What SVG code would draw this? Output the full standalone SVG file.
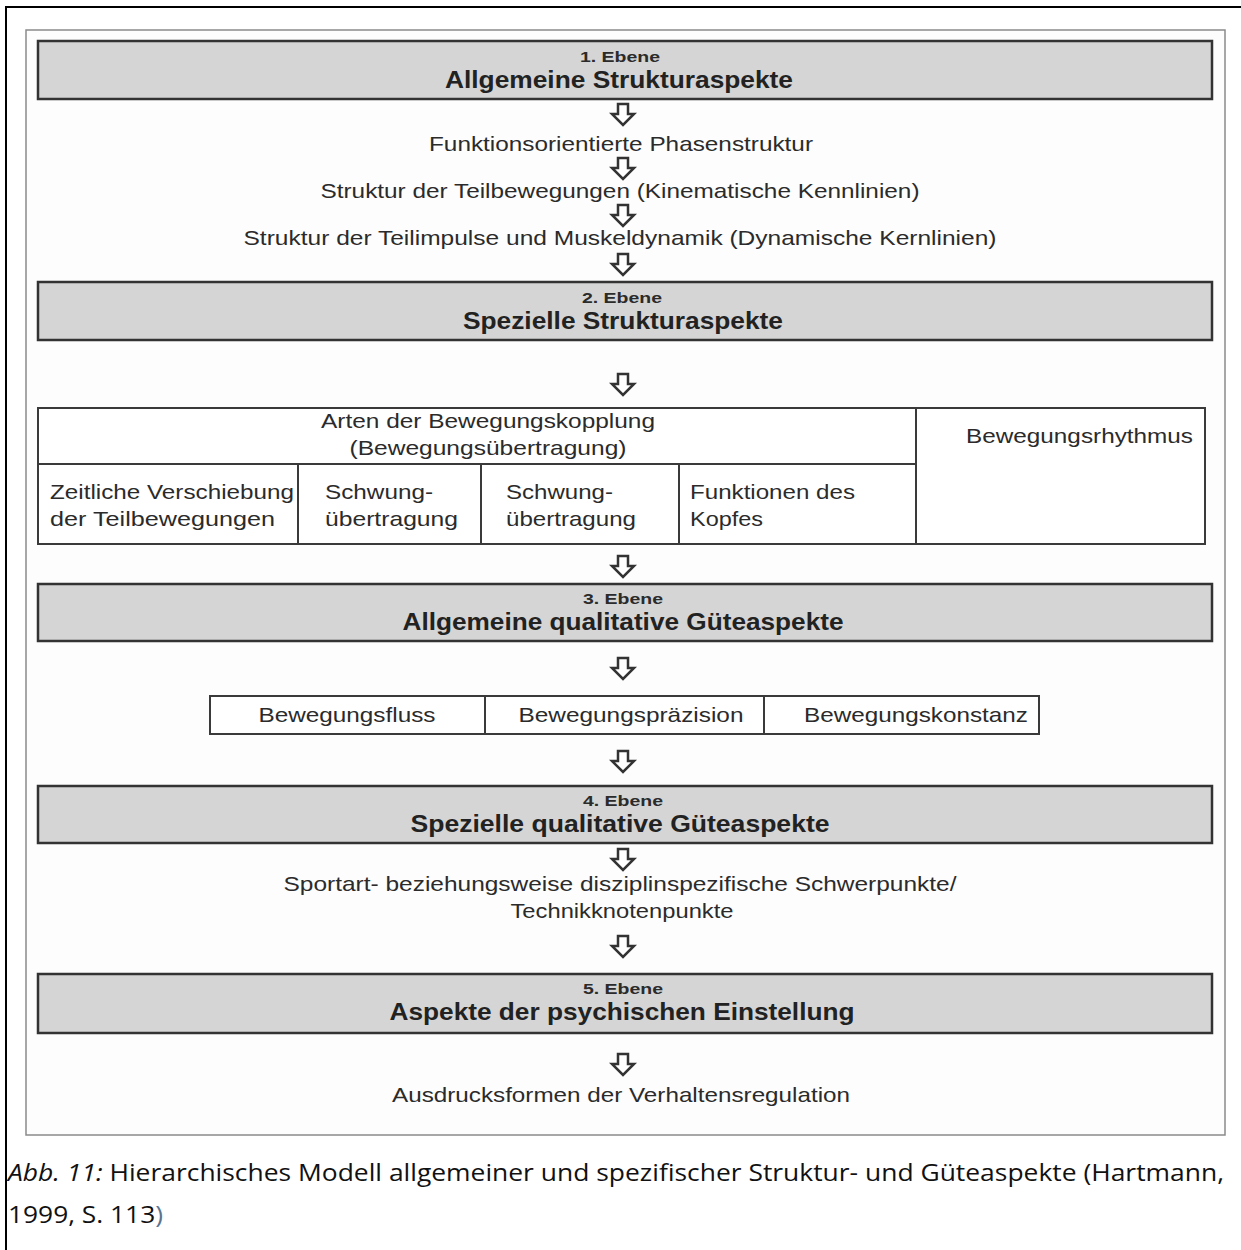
<svg xmlns="http://www.w3.org/2000/svg" width="1241" height="1250" viewBox="0 0 1241 1250">
<style>
.t{font-family:"Liberation Sans",Arial,sans-serif;font-size:21px;fill:#2b2b2b}
.sm{font-family:"Liberation Sans",Arial,sans-serif;font-size:15px;font-weight:bold;fill:#2b2b2b}
.ti{font-family:"Liberation Sans",Arial,sans-serif;font-size:24px;font-weight:bold;fill:#222}
.lvl{fill:#d5d5d5;stroke:#333;stroke-width:2.5}
.cell{fill:#fff;stroke:#3a3a3a;stroke-width:2}
.ln{stroke:#3a3a3a;stroke-width:2;fill:none}
.arr{fill:#fff;stroke:#333;stroke-width:2.5;stroke-linejoin:miter}
.cap{font-family:"Open Sans","Liberation Sans",sans-serif;font-size:24px;fill:#111}
</style>
<defs>
<path id="a" class="arr" d="M-5,0 H5 V10 H11 L0,21 L-11,10 H-5 Z"/>
</defs>
<rect width="1241" height="1250" fill="#fff"/>
<path d="M6,1250 V7 H1241" fill="none" stroke="#000" stroke-width="2"/>
<rect x="26" y="30" width="1199" height="1105" fill="#fdfdfd" stroke="#8a8a8a" stroke-width="1.5"/>

<g id="connectors">
<use href="#a" x="623" y="104"/>
<use href="#a" x="623" y="158"/>
<use href="#a" x="623" y="205"/>
<use href="#a" x="623" y="254"/>
<use href="#a" x="623" y="374"/>
<use href="#a" x="623" y="556"/>
<use href="#a" x="623" y="658"/>
<use href="#a" x="623" y="751"/>
<use href="#a" x="623" y="849"/>
<use href="#a" x="623" y="936"/>
<use href="#a" x="623" y="1054"/>
</g>

<g id="level1">
<rect class="lvl" x="38" y="41" width="1174" height="58"/>
<text class="sm" x="620" y="62" text-anchor="middle" textLength="80" lengthAdjust="spacingAndGlyphs">1. Ebene</text>
<text class="ti" x="619" y="88" text-anchor="middle" textLength="348" lengthAdjust="spacingAndGlyphs">Allgemeine Strukturaspekte</text>
</g>
<g id="phasen"><text class="t" x="621" y="151" text-anchor="middle" textLength="384" lengthAdjust="spacingAndGlyphs">Funktionsorientierte Phasenstruktur</text></g>
<g id="teilbew"><text class="t" x="620" y="198" text-anchor="middle" textLength="599" lengthAdjust="spacingAndGlyphs">Struktur der Teilbewegungen (Kinematische Kennlinien)</text></g>
<g id="teilimp"><text class="t" x="620" y="245" text-anchor="middle" textLength="753" lengthAdjust="spacingAndGlyphs">Struktur der Teilimpulse und Muskeldynamik (Dynamische Kernlinien)</text></g>

<g id="level2">
<rect class="lvl" x="38" y="282" width="1174" height="58"/>
<text class="sm" x="622" y="303" text-anchor="middle" textLength="80" lengthAdjust="spacingAndGlyphs">2. Ebene</text>
<text class="ti" x="623" y="329" text-anchor="middle" textLength="320" lengthAdjust="spacingAndGlyphs">Spezielle Strukturaspekte</text>
</g>

<g id="table">
<rect class="cell" x="38" y="408" width="1167" height="136"/>
<path class="ln" d="M38,464 H916 M916,408 V544 M298,464 V544 M481,464 V544 M679,464 V544"/>
<text class="t" x="488" y="428" text-anchor="middle" textLength="334" lengthAdjust="spacingAndGlyphs">Arten der Bewegungskopplung</text>
<text class="t" x="488" y="455" text-anchor="middle" textLength="277" lengthAdjust="spacingAndGlyphs">(Bewegungsübertragung)</text>
<text class="t" x="966" y="443" textLength="227" lengthAdjust="spacingAndGlyphs">Bewegungsrhythmus</text>
<text class="t" x="50" y="499" textLength="244" lengthAdjust="spacingAndGlyphs">Zeitliche Verschiebung</text>
<text class="t" x="50" y="526" textLength="225" lengthAdjust="spacingAndGlyphs">der Teilbewegungen</text>
<text class="t" x="325" y="499" textLength="108" lengthAdjust="spacingAndGlyphs">Schwung-</text>
<text class="t" x="325" y="526" textLength="133" lengthAdjust="spacingAndGlyphs">übertragung</text>
<text class="t" x="506" y="499" textLength="107" lengthAdjust="spacingAndGlyphs">Schwung-</text>
<text class="t" x="506" y="526" textLength="130" lengthAdjust="spacingAndGlyphs">übertragung</text>
<text class="t" x="690" y="499" textLength="165" lengthAdjust="spacingAndGlyphs">Funktionen des</text>
<text class="t" x="690" y="526" textLength="73" lengthAdjust="spacingAndGlyphs">Kopfes</text>
</g>

<g id="level3">
<rect class="lvl" x="38" y="584" width="1174" height="57"/>
<text class="sm" x="623" y="604" text-anchor="middle" textLength="80" lengthAdjust="spacingAndGlyphs">3. Ebene</text>
<text class="ti" x="623" y="630" text-anchor="middle" textLength="441" lengthAdjust="spacingAndGlyphs">Allgemeine qualitative Güteaspekte</text>
</g>

<g id="guete">
<rect class="cell" x="210" y="696" width="829" height="38"/>
<path class="ln" d="M485,696 V734 M764,696 V734"/>
<text class="t" x="347" y="722" text-anchor="middle" textLength="177" lengthAdjust="spacingAndGlyphs">Bewegungsfluss</text>
<text class="t" x="631" y="722" text-anchor="middle" textLength="225" lengthAdjust="spacingAndGlyphs">Bewegungspräzision</text>
<text class="t" x="916" y="722" text-anchor="middle" textLength="224" lengthAdjust="spacingAndGlyphs">Bewegungskonstanz</text>
</g>

<g id="level4">
<rect class="lvl" x="38" y="786" width="1174" height="57"/>
<text class="sm" x="623" y="806" text-anchor="middle" textLength="80" lengthAdjust="spacingAndGlyphs">4. Ebene</text>
<text class="ti" x="620" y="832" text-anchor="middle" textLength="419" lengthAdjust="spacingAndGlyphs">Spezielle qualitative Güteaspekte</text>
</g>
<g id="sportart">
<text class="t" x="620" y="891" text-anchor="middle" textLength="673" lengthAdjust="spacingAndGlyphs">Sportart- beziehungsweise disziplinspezifische Schwerpunkte/</text>
<text class="t" x="622" y="918" text-anchor="middle" textLength="223" lengthAdjust="spacingAndGlyphs">Technikknotenpunkte</text>
</g>

<g id="level5">
<rect class="lvl" x="38" y="974" width="1174" height="59"/>
<text class="sm" x="623" y="994" text-anchor="middle" textLength="80" lengthAdjust="spacingAndGlyphs">5. Ebene</text>
<text class="ti" x="622" y="1020" text-anchor="middle" textLength="465" lengthAdjust="spacingAndGlyphs">Aspekte der psychischen Einstellung</text>
</g>
<g id="ausdruck"><text class="t" x="621" y="1102" text-anchor="middle" textLength="458" lengthAdjust="spacingAndGlyphs">Ausdrucksformen der Verhaltensregulation</text></g>

<g id="caption">
<text class="cap" x="8" y="1181" textLength="1216" lengthAdjust="spacingAndGlyphs"><tspan font-style="italic">Abb. 11:</tspan> Hierarchisches Modell allgemeiner und spezifischer Struktur- und Güteaspekte (Hartmann,</text>
<text class="cap" x="8" y="1223" textLength="155" lengthAdjust="spacingAndGlyphs">1999, S. 113<tspan fill="#5a7490">)</tspan></text>
</g>
</svg>
